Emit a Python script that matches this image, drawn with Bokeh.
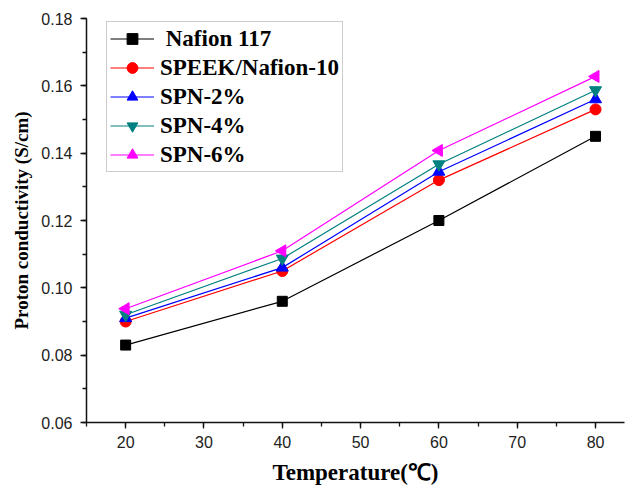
from bokeh.plotting import figure
from bokeh.models import (Range1d, SingleIntervalTicker, NumeralTickFormatter,
                          Legend, LegendItem)
from bokeh.embed import file_html
from bokeh.resources import INLINE

temperature = [20, 40, 60, 80]
nafion117 = [0.083, 0.096, 0.120, 0.145]
speek_nafion10 = [0.090, 0.105, 0.132, 0.153]
spn2 = [0.091, 0.106, 0.1345, 0.156]
spn4 = [0.092, 0.1087, 0.1367, 0.1587]
spn6 = [0.0938, 0.111, 0.1408, 0.1628]

labels = [" Nafion 117", "SPEEK/Nafion-10", "SPN-2%", "SPN-4%", "SPN-6%"]
series = [nafion117, speek_nafion10, spn2, spn4, spn6]
colors = ["#000000", "#FF0000", "#0000FF", "#008080", "#FF00FF"]
markers = ["square", "circle", "triangle", "inverted_triangle", "triangle"]
angles = [0, 0, 0, 0, 90]
sizes = [10, 11, 12, 12, 12]

p = figure(width=626, height=487, output_backend="svg", toolbar_location=None,
           x_range=Range1d(15, 83.7), y_range=Range1d(0.06, 0.18),
           min_border_left=86, min_border_right=2, min_border_top=18,
           min_border_bottom=65)
p.outline_line_color = None
p.xgrid.visible = False
p.ygrid.visible = False
p.background_fill_color = "white"
p.border_fill_color = "white"

items = []
for lab, ys, c, m, a, s in zip(labels, series, colors, markers, angles, sizes):
    r1 = p.line(temperature, ys, line_color=c, line_width=1.2)
    r2 = p.scatter(temperature, ys, marker=m, angle=a, angle_units="deg", size=s,
                   fill_color=c, line_color=c)
    items.append(LegendItem(label=lab, renderers=[r1, r2]))

for ax in (p.xaxis[0], p.yaxis[0]):
    ax.axis_line_color = "#111111"
    ax.axis_line_width = 1.5
    ax.major_tick_line_color = "#111111"
    ax.minor_tick_line_color = "#111111"
    ax.major_tick_line_width = 1.3
    ax.minor_tick_line_width = 1.3
    ax.major_tick_in = 0
    ax.major_tick_out = 6
    ax.minor_tick_in = 0
    ax.minor_tick_out = 4
    ax.major_label_text_font = "Liberation Sans"
    ax.major_label_text_font_size = "16px"
    ax.major_label_text_color = "#222222"
    ax.axis_label_text_font = "Liberation Serif"
    ax.axis_label_text_font_style = "bold"
    ax.axis_label_text_color = "#000000"

p.xaxis[0].ticker = SingleIntervalTicker(interval=10, num_minor_ticks=2)
p.yaxis[0].ticker = SingleIntervalTicker(interval=0.02, num_minor_ticks=2)
p.yaxis[0].formatter = NumeralTickFormatter(format="0.00")
p.xaxis[0].formatter = NumeralTickFormatter(format="0")
p.xaxis[0].axis_label = "Temperature(℃)"
p.yaxis[0].axis_label = "Proton conductivity (S/cm)"
p.xaxis[0].axis_label_text_font_size = "23px"
p.yaxis[0].axis_label_text_font_size = "19px"
p.xaxis[0].major_label_standoff = 7
p.xaxis[0].axis_label_standoff = 9
p.yaxis[0].major_label_standoff = 8
p.yaxis[0].axis_label_standoff = 6

legend = Legend(items=items, location=(20, 250),
                label_text_font="Liberation Serif", label_text_font_style="bold",
                label_text_font_size="23px", label_text_color="#000000",
                glyph_width=44, glyph_height=27, label_height=27,
                label_standoff=6, spacing=2, padding=3, margin=0,
                border_line_color="#999999", border_line_width=1,
                background_fill_color="white", background_fill_alpha=1)
p.add_layout(legend)

open("out.html", "w").write(file_html(p, INLINE))
